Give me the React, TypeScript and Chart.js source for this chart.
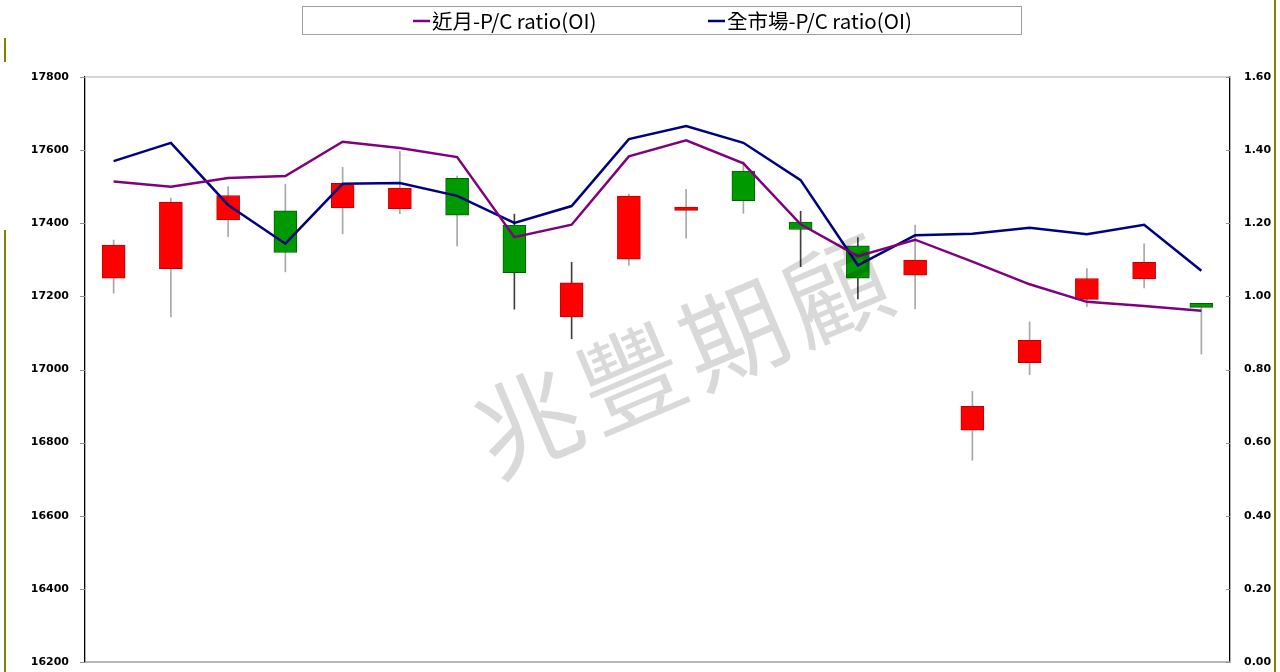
import { useEffect, useRef } from "react";
import { Chart, registerables } from "chart.js";

Chart.register(...registerables);

// ---- data ----
const categories = [
  "D1", "D2", "D3", "D4", "D5", "D6", "D7", "D8", "D9", "D10",
  "D11", "D12", "D13", "D14", "D15", "D16", "D17", "D18", "D19", "D20",
];
const opens = [17250, 17276, 17409, 17434, 17442, 17440, 17523, 17395, 17144, 17302, 17435, 17543, 17403, 17338, 17258, 16834, 17019, 17192, 17248, 17181];
const closes = [17340, 17458, 17476, 17320, 17509, 17496, 17422, 17265, 17237, 17474, 17444, 17462, 17383, 17250, 17299, 16899, 17080, 17249, 17293, 17170];
const highs = [17354, 17469, 17500, 17507, 17553, 17597, 17529, 17425, 17293, 17480, 17493, 17568, 17433, 17361, 17395, 16940, 17130, 17276, 17344, 17181];
const lows = [17209, 17144, 17363, 17267, 17371, 17426, 17338, 17165, 17084, 17285, 17359, 17427, 17281, 17193, 17166, 16752, 16986, 17172, 17223, 17042];
const nearMonthPC = [1.314, 1.300, 1.324, 1.329, 1.423, 1.406, 1.381, 1.162, 1.196, 1.383, 1.427, 1.364, 1.197, 1.110, 1.155, 1.095, 1.033, 0.985, 0.974, 0.961];
const wholeMarketPC = [1.370, 1.420, 1.250, 1.144, 1.308, 1.310, 1.275, 1.201, 1.247, 1.430, 1.466, 1.420, 1.318, 1.085, 1.167, 1.171, 1.188, 1.170, 1.196, 1.070];
const seriesNames = ["近月-P/C ratio(OI)", "全市場-P/C ratio(OI)"];
const watermarkText = "兆豐期顧";

const RED = "#ff0000";
const RED_EDGE = "#c00000";
const GREEN = "#009900";
const GREEN_EDGE = "#006000";
const PURPLE = "#800080";
const NAVY = "#000080";
const darkWickIdx = [7, 8, 12, 13];

const decoPlugin = {
  id: "deco",
  beforeDatasetsDraw(chart: any) {
    const ctx = chart.ctx;
    const a = chart.chartArea;
    ctx.save();
    // top border
    ctx.strokeStyle = "#c8c8c8";
    ctx.lineWidth = 1.5;
    ctx.beginPath();
    ctx.moveTo(a.left, a.top);
    ctx.lineTo(a.right, a.top);
    ctx.stroke();
    // bottom border
    ctx.strokeStyle = "#a0a0a0";
    ctx.lineWidth = 1.5;
    ctx.beginPath();
    ctx.moveTo(a.left, a.bottom);
    ctx.lineTo(a.right, a.bottom);
    ctx.stroke();
    // tick marks: left outside, right inside
    ctx.strokeStyle = "#909090";
    ctx.lineWidth = 1;
    const sl = chart.scales.y;
    sl.ticks.forEach((t: any) => {
      const y = Math.round(sl.getPixelForValue(t.value)) + 0.5;
      ctx.beginPath();
      ctx.moveTo(a.left - 5, y);
      ctx.lineTo(a.left, y);
      ctx.stroke();
    });
    const s = chart.scales.y1;
    s.ticks.forEach((t: any) => {
      const y = Math.round(s.getPixelForValue(t.value)) + 0.5;
      ctx.beginPath();
      ctx.moveTo(a.right - 4, y);
      ctx.lineTo(a.right, y);
      ctx.stroke();
    });
    ctx.restore();
  },
  afterDatasetsDraw(chart: any) {
    const ctx = chart.ctx;
    ctx.save();
    ctx.translate(682, 356);
    ctx.rotate((-23 * Math.PI) / 180);
    ctx.font = '104px "Noto Sans CJK TC"';
    ctx.textAlign = "center";
    ctx.textBaseline = "middle";
    ctx.fillStyle = "rgba(0,0,0,0.15)";
    (ctx as any).letterSpacing = "8px";
    ctx.fillText(watermarkText, 4, 0);
    ctx.restore();
  },
  afterDraw(chart: any) {
    const ctx = chart.ctx;
    ctx.save();
    // legend box
    ctx.strokeStyle = "#a0a0a0";
    ctx.lineWidth = 1;
    ctx.strokeRect(302.5, 6.5, 719, 28);
    const items = [
      { x: 413, color: PURPLE, text: seriesNames[0] },
      { x: 708, color: NAVY, text: seriesNames[1] },
    ];
    ctx.font = '20.5px "Noto Sans CJK TC"';
    ctx.textBaseline = "middle";
    ctx.textAlign = "left";
    items.forEach((it) => {
      ctx.strokeStyle = it.color;
      ctx.lineWidth = 2.5;
      ctx.beginPath();
      ctx.moveTo(it.x, 21);
      ctx.lineTo(it.x + 17, 21);
      ctx.stroke();
      ctx.fillStyle = "#000";
      ctx.fillText(it.text, it.x + 19, 21);
    });
    // olive frame marks
    ctx.strokeStyle = "#808000";
    ctx.lineWidth = 2;
    ctx.beginPath();
    ctx.moveTo(5, 38);
    ctx.lineTo(5, 62);
    ctx.moveTo(5, 230);
    ctx.lineTo(5, 672);
    ctx.moveTo(1275, 0);
    ctx.lineTo(1275, 672);
    ctx.stroke();
    ctx.restore();
  },
};

export default function App() {
  const ref = useRef<HTMLCanvasElement | null>(null);
  useEffect(() => {
    if (!ref.current) return;
    const up = closes.map((c, i) => c >= opens[i]);
    const chart = new Chart(ref.current, {
      data: {
        labels: categories,
        datasets: [
          {
            type: "line",
            label: seriesNames[0],
            data: nearMonthPC,
            yAxisID: "y1",
            borderColor: PURPLE,
            borderWidth: 2.5,
            pointRadius: 0,
            tension: 0,
            order: 0,
          },
          {
            type: "line",
            label: seriesNames[1],
            data: wholeMarketPC,
            yAxisID: "y1",
            borderColor: NAVY,
            borderWidth: 2.5,
            pointRadius: 0,
            tension: 0,
            order: 0,
          },
          {
            type: "bar",
            label: "body",
            data: opens.map((o, i) => [o, closes[i]]),
            yAxisID: "y",
            backgroundColor: up.map((u) => (u ? RED : GREEN)),
            borderColor: up.map((u) => (u ? RED_EDGE : GREEN_EDGE)),
            borderWidth: 1,
            borderSkipped: false,
            barThickness: 23,
            grouped: false,
            order: 1,
          } as any,
          {
            type: "bar",
            label: "wick",
            data: lows.map((l, i) => [l, highs[i]]),
            yAxisID: "y",
            backgroundColor: categories.map((_, i) => (darkWickIdx.includes(i) ? "#404040" : "#a8a8a8")),
            borderWidth: 0,
            barThickness: 1,
            grouped: false,
            order: 2,
          } as any,
        ],
      },
      options: {
        animation: false,
        responsive: false,
        events: [],
        layout: { padding: { top: 77, left: 0, right: 0, bottom: 10 } },
        plugins: { legend: { display: false }, tooltip: { enabled: false } },
        scales: {
          x: {
            type: "category",
            display: false,
            offset: true,
          },
          y: {
            position: "left",
            min: 16200,
            max: 17800,
            ticks: {
              stepSize: 200,
              padding: 0,
              color: "#000",
              font: { family: '"DejaVu Sans"', size: 11, weight: "bold" },
              callback: (v: any) => String(v),
            },
            grid: { drawOnChartArea: false, drawTicks: true, tickLength: 16, color: "rgba(0,0,0,0)" },
            border: { color: "#000", width: 1.3 },
            afterFit: (s: any) => {
              s.width = 85;
            },
          },
          y1: {
            position: "right",
            min: 0,
            max: 1.6,
            ticks: {
              stepSize: 0.2,
              padding: 0,
              color: "#000",
              font: { family: '"DejaVu Sans"', size: 11, weight: "bold" },
              callback: (v: any) => Number(v).toFixed(2),
            },
            grid: { drawOnChartArea: false, drawTicks: true, tickLength: 14, color: "rgba(0,0,0,0)" },
            border: { color: "#000", width: 1.3 },
            afterFit: (s: any) => {
              s.width = 50;
            },
          },
        },
      } as any,
      plugins: [decoPlugin],
    });
    return () => chart.destroy();
  }, []);
  return (
    <div style={{ position: "fixed", left: 0, top: 0, width: 1280, height: 672, background: "#fff" }}>
      <canvas ref={ref} width={1280} height={672} style={{ width: 1280, height: 672 }} />
    </div>
  );
}
